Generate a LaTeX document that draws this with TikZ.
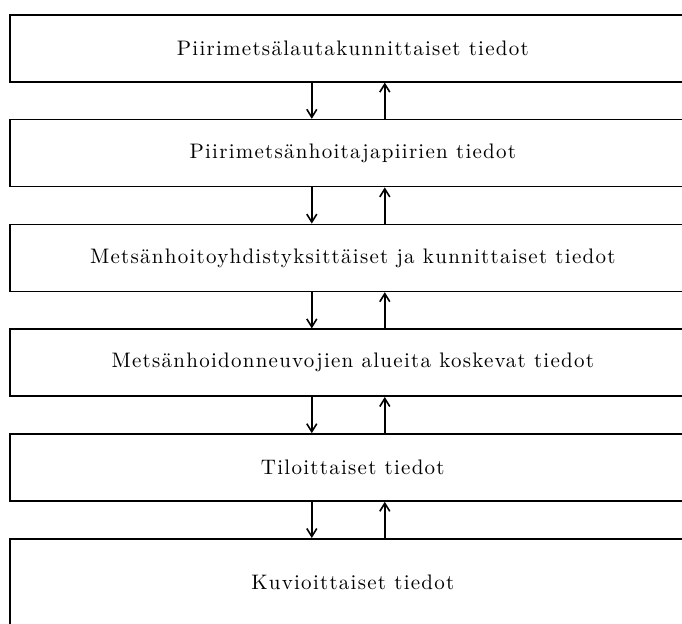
\documentclass[tikz,border=0pt]{standalone}
\usepackage{fontspec}
\newfontfamily\boxfont{Latin Modern Roman}[LetterSpace=6]
\usetikzlibrary{arrows.meta,positioning}

\begin{document}
\begin{tikzpicture}[
  line width=0.8pt, >={Straight Barb[length=4pt,width=5pt]},
  lvl/.style={draw, minimum width=343pt, minimum height=33.5pt, inner sep=0pt,
    font=\boxfont\fontsize{10.5}{12}\selectfont},
  node distance=18.1pt]
  \useasboundingbox (0,0) rectangle (341pt,-311.5pt);
  \clip (0,0) rectangle (341pt,-311.5pt);
  \node[lvl, anchor=north west] (piiri) at (4.5pt,-7pt) {Piirimetsälautakunnittaiset tiedot};
  \node[lvl, below=of piiri] (pmh) {Piirimetsänhoitajapiirien tiedot};
  \node[lvl, below=of pmh] (mhy) {Metsänhoitoyhdistyksittäiset ja kunnittaiset tiedot};
  \node[lvl, below=of mhy] (neuv) {Metsänhoidonneuvojien alueita koskevat tiedot};
  \node[lvl, below=of neuv] (tila) {Tiloittaiset tiedot};
  \node[lvl, below=of tila, minimum height=44pt] (kuvio) {Kuvioittaiset tiedot};
  % tiedot kulkevat alas ja ylös
  \foreach \a/\b in {piiri/pmh, pmh/mhy, mhy/neuv, neuv/tila, tila/kuvio} {
    \draw[->] ([xshift=-20.5pt]\a.south) -- ([xshift=-20.5pt]\b.north);
    \draw[->] ([xshift=16pt]\b.north) -- ([xshift=16pt]\a.south);
  }
\end{tikzpicture}
\end{document}
